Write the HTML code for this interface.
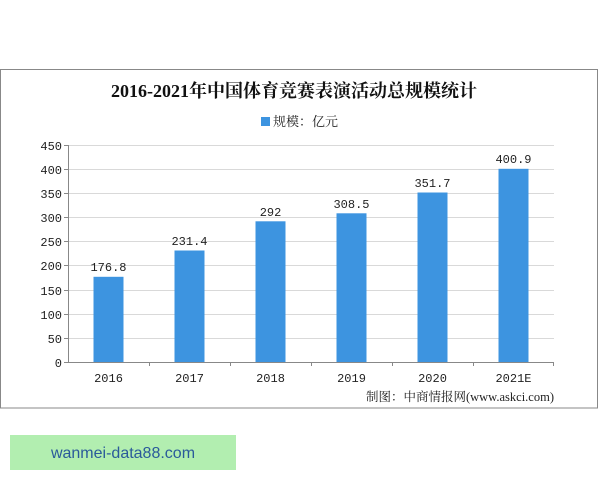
<!DOCTYPE html>
<html><head><meta charset="utf-8"><style>
html,body{margin:0;padding:0;background:#fff;width:600px;height:480px;overflow:hidden}
</style></head><body>
<svg width="600" height="480" xmlns="http://www.w3.org/2000/svg" font-family="'Liberation Serif','Noto Serif CJK SC',serif">
<rect x="0.5" y="69.5" width="597" height="338.5" fill="#fff" stroke="#888" stroke-width="1"/>
<text x="294" y="97" text-anchor="middle" font-size="18" font-weight="bold" fill="#111">2016-2021年中国体育竞赛表演活动总规模统计</text>
<rect x="261" y="117" width="9" height="9" fill="#3d94e0"/>
<text x="273" y="126" font-size="13" fill="#222">规模：亿元</text>
<g stroke="#d9d9d9" stroke-width="1">
<line x1="68" x2="554" y1="145.5" y2="145.5"/><line x1="68" x2="554" y1="169.5" y2="169.5"/>
<line x1="68" x2="554" y1="193.5" y2="193.5"/><line x1="68" x2="554" y1="217.5" y2="217.5"/>
<line x1="68" x2="554" y1="241.5" y2="241.5"/><line x1="68" x2="554" y1="265.5" y2="265.5"/>
<line x1="68" x2="554" y1="290.5" y2="290.5"/><line x1="68" x2="554" y1="314.5" y2="314.5"/>
<line x1="68" x2="554" y1="338.5" y2="338.5"/>
</g>
<g stroke="#888" stroke-width="1">
<line x1="68.5" x2="68.5" y1="145" y2="362"/>
<line x1="64" x2="554" y1="362.5" y2="362.5"/>
<line x1="64" x2="68" y1="145.5" y2="145.5"/><line x1="64" x2="68" y1="169.5" y2="169.5"/>
<line x1="64" x2="68" y1="193.5" y2="193.5"/><line x1="64" x2="68" y1="217.5" y2="217.5"/>
<line x1="64" x2="68" y1="241.5" y2="241.5"/><line x1="64" x2="68" y1="265.5" y2="265.5"/>
<line x1="64" x2="68" y1="290.5" y2="290.5"/><line x1="64" x2="68" y1="314.5" y2="314.5"/>
<line x1="64" x2="68" y1="338.5" y2="338.5"/>
<line x1="149.5" x2="149.5" y1="362" y2="366"/><line x1="230.5" x2="230.5" y1="362" y2="366"/>
<line x1="311.5" x2="311.5" y1="362" y2="366"/><line x1="392.5" x2="392.5" y1="362" y2="366"/>
<line x1="473.5" x2="473.5" y1="362" y2="366"/><line x1="553.5" x2="553.5" y1="362" y2="366"/>
</g>
<g font-size="12" fill="#222" text-anchor="end" font-family="'Liberation Mono',monospace">
<text x="62" y="150">450</text><text x="62" y="174">400</text><text x="62" y="198">350</text>
<text x="62" y="222">300</text><text x="62" y="246">250</text><text x="62" y="270">200</text>
<text x="62" y="295">150</text><text x="62" y="319">100</text><text x="62" y="343">50</text>
<text x="62" y="367">0</text>
</g>
<g fill="#3d94e0">
<rect x="93.5" y="276.8" width="30" height="85.2"/>
<rect x="174.5" y="250.5" width="30" height="111.5"/>
<rect x="255.5" y="221.3" width="30" height="140.7"/>
<rect x="336.5" y="213.3" width="30" height="148.7"/>
<rect x="417.5" y="192.5" width="30" height="169.5"/>
<rect x="498.5" y="168.8" width="30" height="193.2"/>
</g>
<g font-size="12" fill="#222" text-anchor="middle" font-family="'Liberation Mono',monospace">
<text x="108.5" y="271">176.8</text><text x="189.5" y="245">231.4</text>
<text x="270.5" y="216">292</text><text x="351.5" y="208">308.5</text>
<text x="432.5" y="187">351.7</text><text x="513.5" y="163">400.9</text>
<text x="108.5" y="382">2016</text><text x="189.5" y="382">2017</text>
<text x="270.5" y="382">2018</text><text x="351.5" y="382">2019</text>
<text x="432.5" y="382">2020</text><text x="513.5" y="382">2021E</text>
</g>
<text x="554" y="401" text-anchor="end" font-size="12.5" fill="#222">制图：中商情报网(www.askci.com)</text>
<rect x="10" y="435" width="226" height="35" fill="#b2eeb0"/>
<text x="123" y="458" text-anchor="middle" font-family="'Liberation Sans',sans-serif" font-size="16" fill="#2a5a9a">wanmei-data88.com</text>
</svg>
</body></html>
